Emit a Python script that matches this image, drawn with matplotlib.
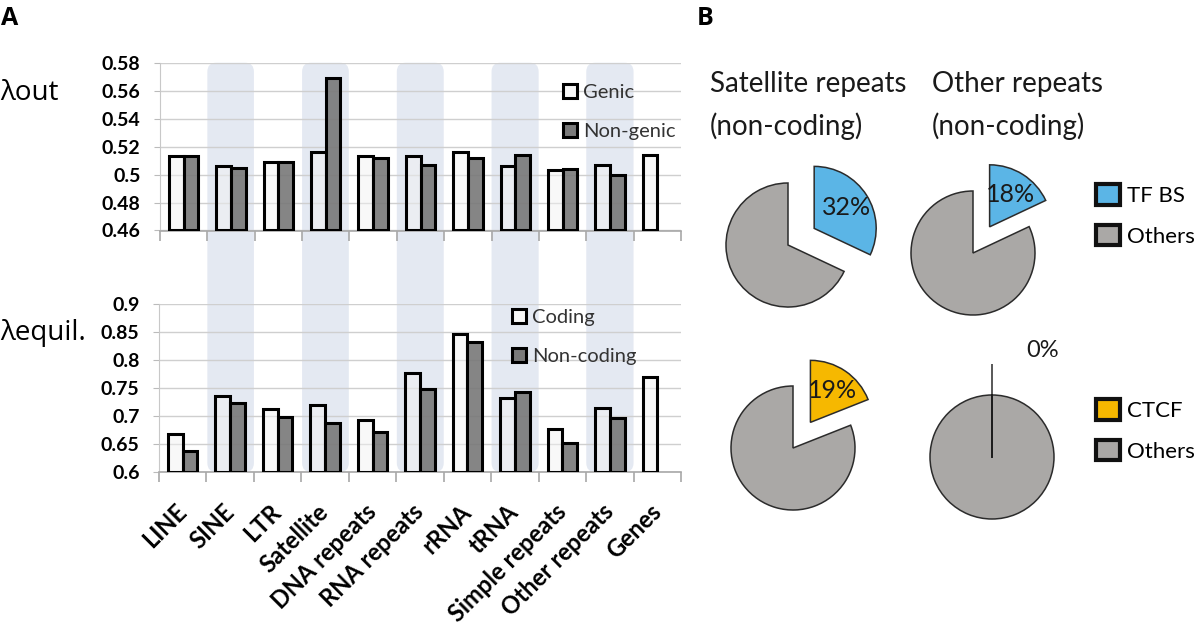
import numpy as np
import matplotlib
matplotlib.use("Agg")
import matplotlib.pyplot as plt
from matplotlib.patches import Patch, FancyBboxPatch
from matplotlib.transforms import IdentityTransform

plt.rcParams['font.family'] = ['Lato', 'DejaVu Sans']

categories = ["LINE", "SINE", "LTR", "Satellite", "DNA repeats", "RNA repeats",
              "rRNA", "tRNA", "Simple repeats", "Other repeats", "Genes"]
lambda_out_genic = [0.513, 0.506, 0.509, 0.516, 0.513, 0.513, 0.516, 0.506, 0.503, 0.507, 0.514]
lambda_out_nongenic = [0.513, 0.505, 0.509, 0.569, 0.512, 0.507, 0.512, 0.514, 0.504, 0.500, np.nan]
lambda_eq_coding = [0.668, 0.735, 0.712, 0.720, 0.692, 0.777, 0.846, 0.733, 0.677, 0.714, 0.770]
lambda_eq_noncoding = [0.638, 0.723, 0.699, 0.687, 0.672, 0.749, 0.832, 0.742, 0.652, 0.696, np.nan]
shaded = ["SINE", "Satellite", "RNA repeats", "tRNA", "Other repeats"]

pie_titles = [["Satellite repeats", "(non-coding)"], ["Other repeats", "(non-coding)"]]
tf_bs_pct = [32, 18]
ctcf_pct = [19, 0]

W, H = 1200, 626
fig = plt.figure(figsize=(W / 100, H / 100), dpi=100)

white_bar = (0.95, 0.95, 0.95, 0.5)
gray_bar = (0.47, 0.47, 0.47, 0.9)
shade_col = '#e4e9f2'
blue = '#5bb5e6'
yellow = '#f6b800'
pie_gray = '#aaa8a6'


def px_axes(x0, y0, x1, y1):
    # pixel box (top-left origin) -> figure axes
    return fig.add_axes([x0 / W, 1 - y1 / H, (x1 - x0) / W, (y1 - y0) / H])


def style_bar_axes(ax, lo, hi, step, labels):
    ax.set_facecolor('none')
    ax.set_xlim(-0.5, len(categories) - 0.5)
    ax.set_ylim(lo, hi)
    ticks = np.round(np.arange(lo, hi + step / 2, step), 3)
    ax.set_yticks(ticks)
    ax.set_yticklabels(labels, fontsize=14, fontweight='bold')
    ax.yaxis.grid(True, color='#cfcfcf', linewidth=1)
    ax.set_axisbelow(True)
    for s in ['top', 'right']:
        ax.spines[s].set_visible(False)
    ax.spines['left'].set_color('#c8c8c8')
    ax.spines['bottom'].set_color('#a8a8a8')
    ax.spines['bottom'].set_linewidth(1.2)
    ax.tick_params(axis='y', length=4, color='#bbbbbb', pad=10)
    ax.set_xticks(np.arange(len(categories)))
    ax.set_xticks(np.arange(-0.5, len(categories)), minor=True)
    ax.tick_params(axis='x', which='minor', length=7, color='#a8a8a8', width=1.2)
    ax.tick_params(axis='x', which='major', length=0)


def draw_bars(ax, a, b, lo):
    x = np.arange(len(categories))
    w = 0.31
    a = np.array(a)
    b = np.array(b)
    ax.bar(x - w / 2, a - lo, w, bottom=lo, facecolor=white_bar, edgecolor='black', linewidth=2.2, zorder=3)
    ok = ~np.isnan(b)
    ax.bar(x[ok] + w / 2, b[ok] - lo, w, bottom=lo, facecolor=gray_bar, edgecolor='black', linewidth=2.2, zorder=3)


ax_out = px_axes(160, 62.7, 681, 230.5)
style_bar_axes(ax_out, 0.46, 0.58, 0.02, ['0.46', '0.48', '0.5', '0.52', '0.54', '0.56', '0.58'])
draw_bars(ax_out, lambda_out_genic, lambda_out_nongenic, 0.46)
ax_out.set_xticklabels([])

ax_eq = px_axes(159, 304, 681, 472)
style_bar_axes(ax_eq, 0.6, 0.9, 0.05, ['0.6', '0.65', '0.7', '0.75', '0.8', '0.85', '0.9'])
draw_bars(ax_eq, lambda_eq_coding, lambda_eq_noncoding, 0.6)
ax_eq.set_xticklabels(categories, rotation=45, ha='right', rotation_mode='anchor',
                      va='center', fontsize=17, fontweight='bold')
ax_eq.tick_params(axis='x', which='major', pad=26)

# shaded columns across both panels
for name in shaded:
    i = categories.index(name)
    xa = ax_out.transData.transform((i - 0.5, 0.58))
    xb = ax_eq.transData.transform((i + 0.5, 0.6))
    box = FancyBboxPatch((xa[0], xb[1]), xb[0] - xa[0], xa[1] - xb[1],
                         boxstyle='round,pad=0,rounding_size=9', transform=IdentityTransform(),
                         facecolor=shade_col, edgecolor='none', zorder=-5)
    fig.patches.append(box)

leg_kw = dict(frameon=False, fontsize=14.5, handlelength=0.7, handleheight=0.7,
              handletextpad=0.3, labelspacing=1.1, borderpad=0, borderaxespad=0, labelcolor='#333333')
ax_out.legend(handles=[Patch(facecolor='#f7f7f7', edgecolor='black', linewidth=2.2, label='Genic'),
                       Patch(facecolor='#7a7a7a', edgecolor='black', linewidth=2.2, label='Non-genic')],
              loc='upper left', bbox_to_anchor=(0.773, 0.875), **leg_kw)
ax_eq.legend(handles=[Patch(facecolor='#f7f7f7', edgecolor='black', linewidth=2.2, label='Coding'),
                      Patch(facecolor='#7a7a7a', edgecolor='black', linewidth=2.2, label='Non-coding'),],
             loc='upper left', bbox_to_anchor=(0.676, 0.97), **leg_kw)

lam_font = ['Open Sans', 'DejaVu Sans']
fig.text(0 / W, 1 - 100 / H, 'λout', fontsize=20, family=lam_font, va='baseline')
fig.text(0 / W, 1 - 340 / H, 'λequil.', fontsize=20, family=lam_font, va='baseline')
fig.text(1 / W, 1 - 25 / H, 'A', fontsize=18, fontweight='bold', family=lam_font, va='baseline')
fig.text(697 / W, 1 - 25 / H, 'B', fontsize=18, fontweight='bold', family=lam_font, va='baseline')

# pies
R = 62.0
centers = [(788, 245), (973, 253), (793, 448), (992, 457)]
pie_data = [(tf_bs_pct[0], blue), (tf_bs_pct[1], blue), (ctcf_pct[0], yellow), (ctcf_pct[1], yellow)]
for k, ((cx, cy), (pct, col)) in enumerate(zip(centers, pie_data)):
    half = 1.6 * R
    ax = px_axes(cx - half, cy - half, cx + half, cy + half)
    wedges, _ = ax.pie([pct, 100 - pct], startangle=90, counterclock=False,
                       explode=[0.5, 0], colors=[col, pie_gray],
                       wedgeprops=dict(edgecolor='#2b2b2b', linewidth=1.1))
    ax.set_xlim(-1.6, 1.6)
    ax.set_ylim(-1.6, 1.6)
    ax.set_aspect('equal')
    ax.axis('off')
    w0 = wedges[0]
    mid = np.deg2rad((w0.theta1 + w0.theta2) / 2)
    cxw, cyw = w0.center
    if pct > 0:
        ax.text(cxw + 0.62 * np.cos(mid), cyw + 0.62 * np.sin(mid), '%d%%' % pct,
                ha='center', va='center', fontsize=18, color='#1a1a1a')
    else:
        # zero slice: only its radial edge shows, plus the edge of the full pie
        w1 = wedges[1]
        ang = np.deg2rad(w0.theta1)
        ax.plot([w1.center[0], w1.center[0] + w1.r * np.cos(ang)],
                [w1.center[1], w1.center[1] + w1.r * np.sin(ang)], color='#1a1a1a', lw=1.4)
        ax.text(cxw + 0.81, cyw + 1.22, '%d%%' % pct, ha='center', va='center',
                fontsize=17, color='#1a1a1a', clip_on=False)

for (x0, lines) in zip([710, 932], pie_titles):
    fig.text(x0 / W, 1 - 92 / H, lines[0], fontsize=20, va='baseline', color='#1a1a1a')
    fig.text(x0 / W, 1 - 135 / H, lines[1], fontsize=20, va='baseline', color='#1a1a1a')

pleg_kw = dict(frameon=False, fontsize=16, handlelength=1.1, handleheight=1.05,
               handletextpad=0.3, labelspacing=0.85, borderpad=0, borderaxespad=0, loc='upper left')
fig.legend(handles=[Patch(facecolor=blue, edgecolor='#111111', linewidth=3, label='TF BS'),
                    Patch(facecolor=pie_gray, edgecolor='#111111', linewidth=3, label='Others')],
           bbox_to_anchor=(1096 / W, 1 - 184 / H), **pleg_kw)
fig.legend(handles=[Patch(facecolor=yellow, edgecolor='#111111', linewidth=3, label='CTCF'),
                    Patch(facecolor=pie_gray, edgecolor='#111111', linewidth=3, label='Others')],
           bbox_to_anchor=(1096 / W, 1 - 399 / H), **pleg_kw)

fig.savefig('out.png', dpi=100, facecolor='white')
